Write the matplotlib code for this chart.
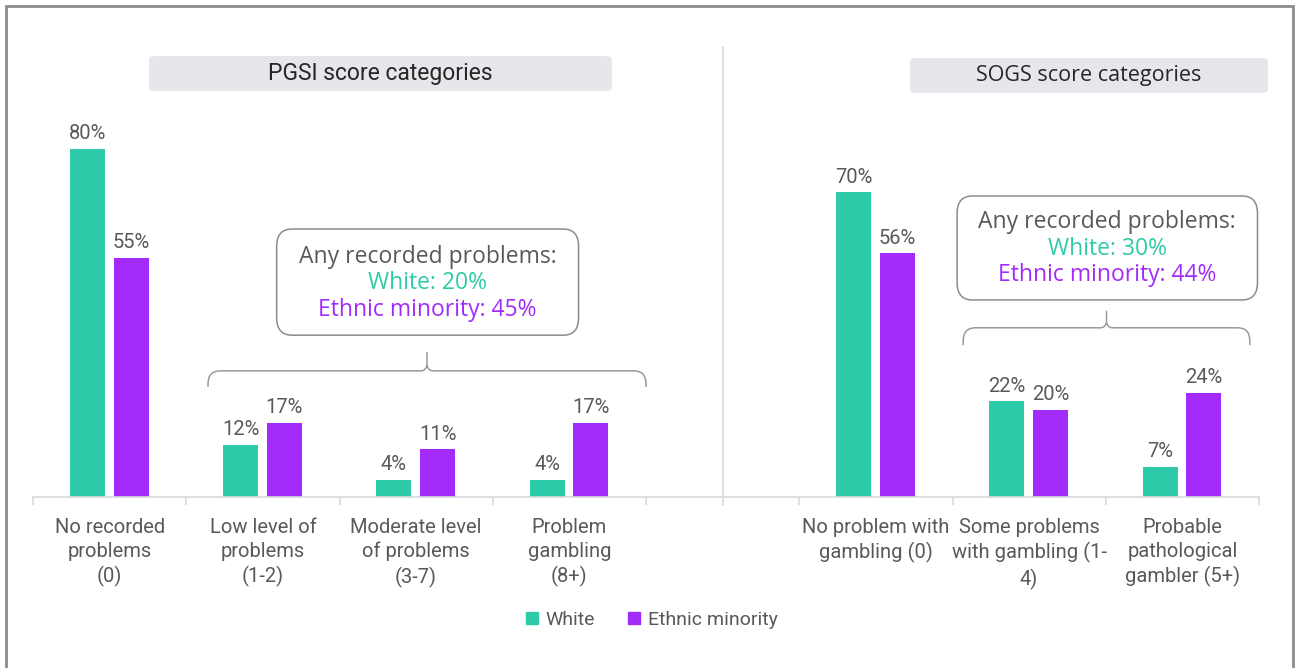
import numpy as np
import matplotlib.pyplot as plt
from matplotlib.patches import FancyBboxPatch, Rectangle
from matplotlib.path import Path
from matplotlib.patches import PathPatch
from matplotlib.lines import Line2D

# PGSI and SOGS score categories (slot 4 is an empty spacer between the two scales)
categories = [
    "No recorded\nproblems\n(0)",
    "Low level of\nproblems\n(1-2)",
    "Moderate level\nof problems\n(3-7)",
    "Problem\ngambling\n(8+)",
    "",
    "No problem with\ngambling (0)",
    "Some problems\nwith gambling (1-\n4)",
    "Probable\npathological\ngambler (5+)",
]
white = [80, 12, 4, 4, None, 70, 22, 7]
ethnic = [55, 17, 11, 17, None, 56, 20, 24]

pgsi_any = {"White": 20, "Ethnic minority": 45}
sogs_any = {"White": 30, "Ethnic minority": 44}

TEAL = "#2ECBA8"
PURPLE = "#A22BFC"
GREY_TXT = "#595959"
LIGHT = "#D9D9D9"

W, H = 1295, 668
fig = plt.figure(figsize=(W / 100, H / 100), dpi=100)
plt.rcParams["font.family"] = ["Roboto", "DejaVu Sans"]


def fx(px):
    return px / W


def fy(py):
    return 1 - py / H


# outer frame
fig.patches.append(Rectangle((fx(6), fy(700)), fx(1293) - fx(6), fy(6) - fy(700),
                             transform=fig.transFigure, fill=False,
                             edgecolor="#8C8C8C", linewidth=2))

ax = fig.add_axes([fx(33), fy(497), fx(1259) - fx(33), fy(62) - fy(497)])
ax.set_xlim(0, 8)
ax.set_ylim(0, 100)

x = np.arange(len(categories)) + 0.5
bw = 0.228
for i in range(len(categories)):
    if white[i] is None:
        continue
    for val, off, col in [(white[i], -0.145, TEAL), (ethnic[i], 0.14, PURPLE)]:
        ax.bar(x[i] + off, val, width=bw, color=col, zorder=2)
        ax.annotate(f"{val}%", (x[i] + off, val), xytext=(0, 4),
                    textcoords="offset points", ha="center", va="bottom",
                    fontsize=14.5, color=GREY_TXT)

for s in ["top", "right", "left"]:
    ax.spines[s].set_visible(False)
ax.spines["bottom"].set_color(LIGHT)
ax.spines["bottom"].set_linewidth(1.2)
ax.set_yticks([])
ax.set_xticks(np.arange(0, 9))
ax.set_xticklabels([])
ax.tick_params(axis="x", which="major", length=6, color=LIGHT, width=1.2)
ax.set_xticks(x, minor=True)
ax.set_xticklabels(categories, minor=True, fontsize=14.5, color=GREY_TXT,
                   linespacing=1.33)
ax.tick_params(axis="x", which="minor", length=0, pad=15)

# separator between the two scales
ax.plot([4.5, 4.5], [-1.9, 103.4], color=LIGHT, lw=1.2, clip_on=False, zorder=1)


def brace(x0, x1, y_end, y_mid, y_tip, r=0.08, rh=3.0):
    xm = (x0 + x1) / 2
    verts = [
        (x0, y_end), (x0, y_mid - rh), (x0, y_mid), (x0 + r, y_mid),
        (xm - r / 2, y_mid), (xm - 0.01, y_mid), (xm, y_mid + 1.2), (xm, y_tip),
        (xm, y_mid + 1.2), (xm + 0.01, y_mid), (xm + r / 2, y_mid),
        (x1 - r, y_mid), (x1, y_mid), (x1, y_mid - rh), (x1, y_end),
    ]
    codes = [Path.MOVETO, Path.LINETO, Path.CURVE3, Path.CURVE3,
             Path.LINETO, Path.CURVE3, Path.CURVE3, Path.LINETO,
             Path.MOVETO, Path.CURVE3, Path.CURVE3,
             Path.LINETO, Path.CURVE3, Path.CURVE3, Path.LINETO]
    ax.add_patch(PathPatch(Path(verts, codes), fill=False, edgecolor="#9A9A9A",
                           lw=1.1, clip_on=False))


def summary_box(x0, x1, y0, y1, vals, lines_y):
    ax.add_patch(FancyBboxPatch((x0, y0), x1 - x0, y1 - y0,
                                boxstyle="round,pad=0,rounding_size=0.1",
                                mutation_aspect=40, fill=True, facecolor="white",
                                edgecolor="#8C8C8C", lw=1.1, clip_on=False, zorder=3))
    xm = (x0 + x1) / 2
    kw = dict(ha="center", va="center", fontsize=16.5,
              family=["Open Sans", "DejaVu Sans"], zorder=4)
    ax.text(xm, lines_y[0], "Any recorded problems:", color=GREY_TXT, **kw)
    ax.text(xm, lines_y[1], f"White: {vals['White']}%", color=TEAL, **kw)
    ax.text(xm, lines_y[2], f"Ethnic minority: {vals['Ethnic minority']}%", color=PURPLE, **kw)


brace(1.142, 4.0, 25.3, 29.0, 33.3)
summary_box(1.59, 3.56, 37.2, 61.6, pgsi_any, [55.2, 49.1, 43.0])
brace(6.07, 7.94, 34.9, 38.9, 42.8)
summary_box(6.03, 7.99, 45.3, 69.2, sogs_any, [63.2, 57.0, 51.0])


def title_box(x0, x1, y0, y1, text, size, family):
    fig.patches.append(FancyBboxPatch((fx(x0), fy(y1)), fx(x1) - fx(x0), fy(y0) - fy(y1),
                                      boxstyle="round,pad=0,rounding_size=0.005",
                                      transform=fig.transFigure, facecolor="#E7E7EB",
                                      edgecolor="none"))
    fig.text(fx((x0 + x1) / 2), fy((y0 + y1) / 2), text, ha="center", va="center",
             fontsize=size, color="#262626", family=family)


title_box(149, 612, 56, 91, "PGSI score categories", 16.5, ["Roboto", "DejaVu Sans"])
title_box(910, 1268, 58, 93, "SOGS score categories", 15.5, ["Open Sans", "DejaVu Sans"])

handles = [Line2D([], [], marker="s", ls="none", markersize=8.5, color=TEAL),
           Line2D([], [], marker="s", ls="none", markersize=8.5, color=PURPLE)]
leg = fig.legend(handles, ["White", "Ethnic minority"], loc="center",
                 bbox_to_anchor=(fx(651), fy(620)), ncol=2, frameon=False,
                 fontsize=14, handlelength=0.8, handletextpad=0.3, columnspacing=1.6)
for t in leg.get_texts():
    t.set_color(GREY_TXT)

fig.savefig("out.png", dpi=100)
